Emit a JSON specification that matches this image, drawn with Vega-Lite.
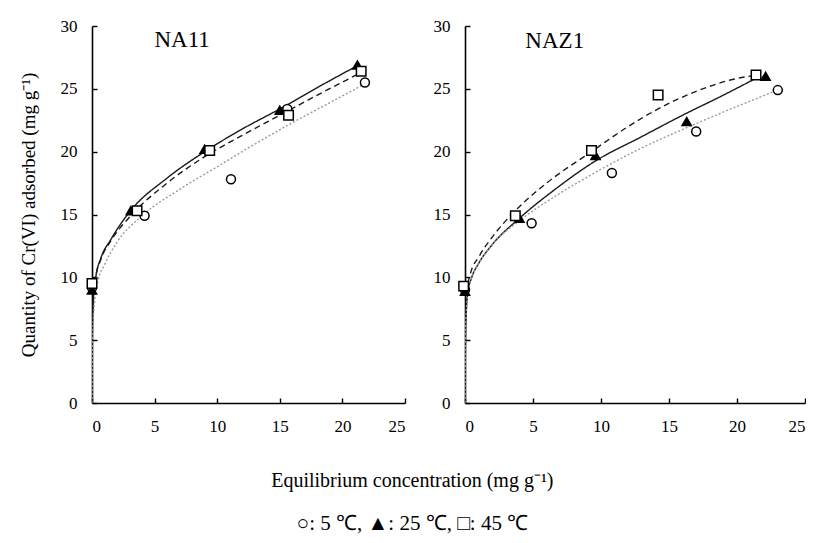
{
  "$schema": "https://vega.github.io/schema/vega-lite/v6.json",
  "autosize": {"type": "pad"},
  "padding": {"left": 19, "top": 17, "right": 0, "bottom": 5},
  "background": "white",
  "config": {
    "font": "Liberation Serif, Times New Roman, serif",
    "view": {"stroke": null},
    "axis": {
      "grid": false,
      "domainColor": "black",
      "domainWidth": 1.6,
      "tickColor": "black",
      "tickWidth": 1.4,
      "tickSize": -5,
      "labelPadding": 20,
      "labelFont": "Liberation Serif, Times New Roman, serif",
      "labelFontSize": 17,
      "labelColor": "black",
      "labelAngle": 0,
      "titleFont": "Liberation Serif, Times New Roman, serif",
      "titleFontSize": 19,
      "titleFontWeight": "normal",
      "titleColor": "black"
    }
  },
  "title": {
    "text": "Equilibrium  concentration (mg  g⁻¹)",
    "subtitle": "○: 5 ℃, ▲: 25 ℃, □: 45 ℃",
    "orient": "bottom",
    "anchor": "middle",
    "font": "Liberation Serif, Times New Roman, serif",
    "subtitleFont": "Liberation Serif, Times New Roman, serif",
    "fontSize": 20,
    "fontWeight": "normal",
    "subtitleFontSize": 21,
    "subtitleColor": "black",
    "color": "black",
    "offset": 37,
    "subtitlePadding": 22
  },
  "datasets": {
    "pts": [
      {"panel": "NA11", "temp": "5 °C", "x": 0.0, "y": 9.2},
      {"panel": "NA11", "temp": "5 °C", "x": 4.2, "y": 14.9},
      {"panel": "NA11", "temp": "5 °C", "x": 11.1, "y": 17.8},
      {"panel": "NA11", "temp": "5 °C", "x": 15.6, "y": 23.4},
      {"panel": "NA11", "temp": "5 °C", "x": 21.8, "y": 25.5},
      {"panel": "NA11", "temp": "25 °C", "x": 0.0, "y": 9.0},
      {"panel": "NA11", "temp": "25 °C", "x": 3.1, "y": 15.3},
      {"panel": "NA11", "temp": "25 °C", "x": 9.0, "y": 20.2},
      {"panel": "NA11", "temp": "25 °C", "x": 15.0, "y": 23.3},
      {"panel": "NA11", "temp": "25 °C", "x": 21.2, "y": 26.9},
      {"panel": "NA11", "temp": "45 °C", "x": 0.0, "y": 9.5},
      {"panel": "NA11", "temp": "45 °C", "x": 3.6, "y": 15.3},
      {"panel": "NA11", "temp": "45 °C", "x": 9.4, "y": 20.1},
      {"panel": "NA11", "temp": "45 °C", "x": 15.7, "y": 22.9},
      {"panel": "NA11", "temp": "45 °C", "x": 21.5, "y": 26.4},
      {"panel": "NAZ1", "temp": "5 °C", "x": 0.0, "y": 9.0},
      {"panel": "NAZ1", "temp": "5 °C", "x": 4.9, "y": 14.3},
      {"panel": "NAZ1", "temp": "5 °C", "x": 10.8, "y": 18.3},
      {"panel": "NAZ1", "temp": "5 °C", "x": 17.0, "y": 21.6},
      {"panel": "NAZ1", "temp": "5 °C", "x": 23.0, "y": 24.9},
      {"panel": "NAZ1", "temp": "25 °C", "x": 0.0, "y": 8.9},
      {"panel": "NAZ1", "temp": "25 °C", "x": 4.0, "y": 14.7},
      {"panel": "NAZ1", "temp": "25 °C", "x": 9.6, "y": 19.7},
      {"panel": "NAZ1", "temp": "25 °C", "x": 16.3, "y": 22.4},
      {"panel": "NAZ1", "temp": "25 °C", "x": 22.1, "y": 26.0},
      {"panel": "NAZ1", "temp": "45 °C", "x": -0.1, "y": 9.3},
      {"panel": "NAZ1", "temp": "45 °C", "x": 3.7, "y": 14.9},
      {"panel": "NAZ1", "temp": "45 °C", "x": 9.3, "y": 20.1},
      {"panel": "NAZ1", "temp": "45 °C", "x": 14.2, "y": 24.5},
      {"panel": "NAZ1", "temp": "45 °C", "x": 21.4, "y": 26.1}
    ],
    "curves": [
      {"panel": "NA11", "temp": "25 °C", "x": 0, "y": 0},
      {"panel": "NA11", "temp": "25 °C", "x": 0.02, "y": 5},
      {"panel": "NA11", "temp": "25 °C", "x": 0.1, "y": 8},
      {"panel": "NA11", "temp": "25 °C", "x": 0.3, "y": 10},
      {"panel": "NA11", "temp": "25 °C", "x": 0.7, "y": 11.5},
      {"panel": "NA11", "temp": "25 °C", "x": 1.5, "y": 13.0},
      {"panel": "NA11", "temp": "25 °C", "x": 3, "y": 15.2},
      {"panel": "NA11", "temp": "25 °C", "x": 6, "y": 17.9},
      {"panel": "NA11", "temp": "25 °C", "x": 9, "y": 20.0},
      {"panel": "NA11", "temp": "25 °C", "x": 12, "y": 21.8},
      {"panel": "NA11", "temp": "25 °C", "x": 15, "y": 23.4},
      {"panel": "NA11", "temp": "25 °C", "x": 18, "y": 25.1},
      {"panel": "NA11", "temp": "25 °C", "x": 21.3, "y": 26.9},
      {"panel": "NA11", "temp": "45 °C", "x": 0, "y": 0},
      {"panel": "NA11", "temp": "45 °C", "x": 0.02, "y": 5},
      {"panel": "NA11", "temp": "45 °C", "x": 0.1, "y": 8},
      {"panel": "NA11", "temp": "45 °C", "x": 0.3, "y": 10},
      {"panel": "NA11", "temp": "45 °C", "x": 0.7, "y": 11.4},
      {"panel": "NA11", "temp": "45 °C", "x": 1.5, "y": 12.9},
      {"panel": "NA11", "temp": "45 °C", "x": 3, "y": 14.8},
      {"panel": "NA11", "temp": "45 °C", "x": 6, "y": 17.5},
      {"panel": "NA11", "temp": "45 °C", "x": 9, "y": 19.6},
      {"panel": "NA11", "temp": "45 °C", "x": 12, "y": 21.3},
      {"panel": "NA11", "temp": "45 °C", "x": 15, "y": 22.9},
      {"panel": "NA11", "temp": "45 °C", "x": 18, "y": 24.5},
      {"panel": "NA11", "temp": "45 °C", "x": 21.5, "y": 26.3},
      {"panel": "NA11", "temp": "5 °C", "x": 0, "y": 0},
      {"panel": "NA11", "temp": "5 °C", "x": 0.05, "y": 5},
      {"panel": "NA11", "temp": "5 °C", "x": 0.2, "y": 8},
      {"panel": "NA11", "temp": "5 °C", "x": 0.5, "y": 9.8},
      {"panel": "NA11", "temp": "5 °C", "x": 1, "y": 11},
      {"panel": "NA11", "temp": "5 °C", "x": 2, "y": 12.8},
      {"panel": "NA11", "temp": "5 °C", "x": 4, "y": 14.9},
      {"panel": "NA11", "temp": "5 °C", "x": 7, "y": 17.0},
      {"panel": "NA11", "temp": "5 °C", "x": 10, "y": 18.8},
      {"panel": "NA11", "temp": "5 °C", "x": 13, "y": 20.6},
      {"panel": "NA11", "temp": "5 °C", "x": 16, "y": 22.3},
      {"panel": "NA11", "temp": "5 °C", "x": 19, "y": 23.9},
      {"panel": "NA11", "temp": "5 °C", "x": 21.8, "y": 25.4},
      {"panel": "NAZ1", "temp": "45 °C", "x": 0, "y": 0},
      {"panel": "NAZ1", "temp": "45 °C", "x": 0.03, "y": 6},
      {"panel": "NAZ1", "temp": "45 °C", "x": 0.15, "y": 9},
      {"panel": "NAZ1", "temp": "45 °C", "x": 0.4, "y": 10.3},
      {"panel": "NAZ1", "temp": "45 °C", "x": 1, "y": 11.6},
      {"panel": "NAZ1", "temp": "45 °C", "x": 2, "y": 13.2},
      {"panel": "NAZ1", "temp": "45 °C", "x": 3.7, "y": 15.3},
      {"panel": "NAZ1", "temp": "45 °C", "x": 6, "y": 17.5},
      {"panel": "NAZ1", "temp": "45 °C", "x": 9.3, "y": 20.0},
      {"panel": "NAZ1", "temp": "45 °C", "x": 12, "y": 22.0},
      {"panel": "NAZ1", "temp": "45 °C", "x": 14.2, "y": 23.4},
      {"panel": "NAZ1", "temp": "45 °C", "x": 17, "y": 24.8},
      {"panel": "NAZ1", "temp": "45 °C", "x": 19.5, "y": 25.7},
      {"panel": "NAZ1", "temp": "45 °C", "x": 21.5, "y": 26.1},
      {"panel": "NAZ1", "temp": "25 °C", "x": 0, "y": 0},
      {"panel": "NAZ1", "temp": "25 °C", "x": 0.05, "y": 6},
      {"panel": "NAZ1", "temp": "25 °C", "x": 0.2, "y": 8.7},
      {"panel": "NAZ1", "temp": "25 °C", "x": 0.5, "y": 10},
      {"panel": "NAZ1", "temp": "25 °C", "x": 1, "y": 11.1},
      {"panel": "NAZ1", "temp": "25 °C", "x": 2, "y": 12.6},
      {"panel": "NAZ1", "temp": "25 °C", "x": 4, "y": 14.7},
      {"panel": "NAZ1", "temp": "25 °C", "x": 6.5, "y": 16.9},
      {"panel": "NAZ1", "temp": "25 °C", "x": 9.5, "y": 19.2},
      {"panel": "NAZ1", "temp": "25 °C", "x": 13, "y": 21.2},
      {"panel": "NAZ1", "temp": "25 °C", "x": 16, "y": 22.9},
      {"panel": "NAZ1", "temp": "25 °C", "x": 19, "y": 24.5},
      {"panel": "NAZ1", "temp": "25 °C", "x": 21.5, "y": 25.9},
      {"panel": "NAZ1", "temp": "5 °C", "x": 0, "y": 0},
      {"panel": "NAZ1", "temp": "5 °C", "x": 0.05, "y": 6},
      {"panel": "NAZ1", "temp": "5 °C", "x": 0.2, "y": 8.7},
      {"panel": "NAZ1", "temp": "5 °C", "x": 0.5, "y": 10},
      {"panel": "NAZ1", "temp": "5 °C", "x": 1, "y": 11.1},
      {"panel": "NAZ1", "temp": "5 °C", "x": 2, "y": 12.6},
      {"panel": "NAZ1", "temp": "5 °C", "x": 4, "y": 14.5},
      {"panel": "NAZ1", "temp": "5 °C", "x": 7, "y": 16.7},
      {"panel": "NAZ1", "temp": "5 °C", "x": 10, "y": 18.6},
      {"panel": "NAZ1", "temp": "5 °C", "x": 13, "y": 20.3},
      {"panel": "NAZ1", "temp": "5 °C", "x": 16.5, "y": 22.0},
      {"panel": "NAZ1", "temp": "5 °C", "x": 20, "y": 23.6},
      {"panel": "NAZ1", "temp": "5 °C", "x": 23, "y": 24.9}
    ],
    "labels": [
      {"panel": "NA11", "x": 7.2, "y": 28.9, "text": "NA11"},
      {"panel": "NAZ1", "x": 6.6, "y": 28.8, "text": "NAZ1"}
    ]
  },
  "spacing": 27,
  "hconcat": [
    {
      "width": 313,
      "height": 377,
      "encoding": {
        "x": {"field": "x", "type": "quantitative", "scale": {"domain": [0, 25]}, "axis": {"values": [0, 5, 10, 15, 20, 25], "title": null}},
        "y": {"field": "y", "type": "quantitative", "scale": {"domain": [0, 30]}, "axis": {"values": [0, 5, 10, 15, 20, 25, 30], "title": "Quantity of Cr(VI) adsorbed (mg g⁻¹)", "titlePadding": 22}}
      },
      "layer": [
        {
          "data": {"name": "curves"},
          "transform": [{"filter": "datum.panel === 'NA11'"}],
          "mark": {"type": "line", "interpolate": "monotone", "strokeWidth": 1.4, "clip": true},
          "encoding": {
            "detail": {"field": "temp"},
            "order": {"field": "x", "type": "quantitative"},
            "color": {"field": "temp", "type": "nominal", "scale": {"domain": ["5 °C", "25 °C", "45 °C"], "range": ["#9a9a9a", "#1a1a1a", "#1a1a1a"]}, "legend": null},
            "strokeDash": {"field": "temp", "type": "nominal", "scale": {"domain": ["5 °C", "25 °C", "45 °C"], "range": [[2, 2], [1, 0], [6, 4]]}, "legend": null}
          }
        },
        {
          "data": {"name": "pts"},
          "transform": [{"filter": "datum.panel === 'NA11'"}],
          "mark": {"type": "point", "strokeWidth": 1.5, "opacity": 1, "stroke": "black", "filled": true},
          "encoding": {
            "shape": {"field": "temp", "type": "nominal", "scale": {"domain": ["5 °C", "25 °C", "45 °C"], "range": ["circle", "triangle-up", "square"]}, "legend": null},
            "fill": {"field": "temp", "type": "nominal", "scale": {"domain": ["5 °C", "25 °C", "45 °C"], "range": ["white", "black", "white"]}, "legend": null},
            "size": {"field": "temp", "type": "nominal", "scale": {"domain": ["5 °C", "25 °C", "45 °C"], "range": [80, 90, 130]}, "legend": null}
          }
        },
        {
          "data": {"name": "labels"},
          "transform": [{"filter": "datum.panel === 'NA11'"}],
          "mark": {"type": "text", "font": "Liberation Serif, Times New Roman, serif", "fontSize": 23, "color": "black"},
          "encoding": {"text": {"field": "text"}}
        }
      ]
    },
    {
      "width": 340,
      "height": 377,
      "encoding": {
        "x": {"field": "x", "type": "quantitative", "scale": {"domain": [0, 25]}, "axis": {"values": [0, 5, 10, 15, 20, 25], "title": null}},
        "y": {"field": "y", "type": "quantitative", "scale": {"domain": [0, 30]}, "axis": {"values": [0, 5, 10, 15, 20, 25, 30], "title": null}}
      },
      "layer": [
        {
          "data": {"name": "curves"},
          "transform": [{"filter": "datum.panel === 'NAZ1'"}],
          "mark": {"type": "line", "interpolate": "monotone", "strokeWidth": 1.4, "clip": true},
          "encoding": {
            "detail": {"field": "temp"},
            "order": {"field": "x", "type": "quantitative"},
            "color": {"field": "temp", "type": "nominal", "scale": {"domain": ["5 °C", "25 °C", "45 °C"], "range": ["#9a9a9a", "#1a1a1a", "#1a1a1a"]}, "legend": null},
            "strokeDash": {"field": "temp", "type": "nominal", "scale": {"domain": ["5 °C", "25 °C", "45 °C"], "range": [[2, 2], [1, 0], [6, 4]]}, "legend": null}
          }
        },
        {
          "data": {"name": "pts"},
          "transform": [{"filter": "datum.panel === 'NAZ1'"}],
          "mark": {"type": "point", "strokeWidth": 1.5, "opacity": 1, "stroke": "black", "filled": true},
          "encoding": {
            "shape": {"field": "temp", "type": "nominal", "scale": {"domain": ["5 °C", "25 °C", "45 °C"], "range": ["circle", "triangle-up", "square"]}, "legend": null},
            "fill": {"field": "temp", "type": "nominal", "scale": {"domain": ["5 °C", "25 °C", "45 °C"], "range": ["white", "black", "white"]}, "legend": null},
            "size": {"field": "temp", "type": "nominal", "scale": {"domain": ["5 °C", "25 °C", "45 °C"], "range": [80, 90, 130]}, "legend": null}
          }
        },
        {
          "data": {"name": "labels"},
          "transform": [{"filter": "datum.panel === 'NAZ1'"}],
          "mark": {"type": "text", "font": "Liberation Serif, Times New Roman, serif", "fontSize": 23, "color": "black"},
          "encoding": {"text": {"field": "text"}}
        }
      ]
    }
  ]
}
